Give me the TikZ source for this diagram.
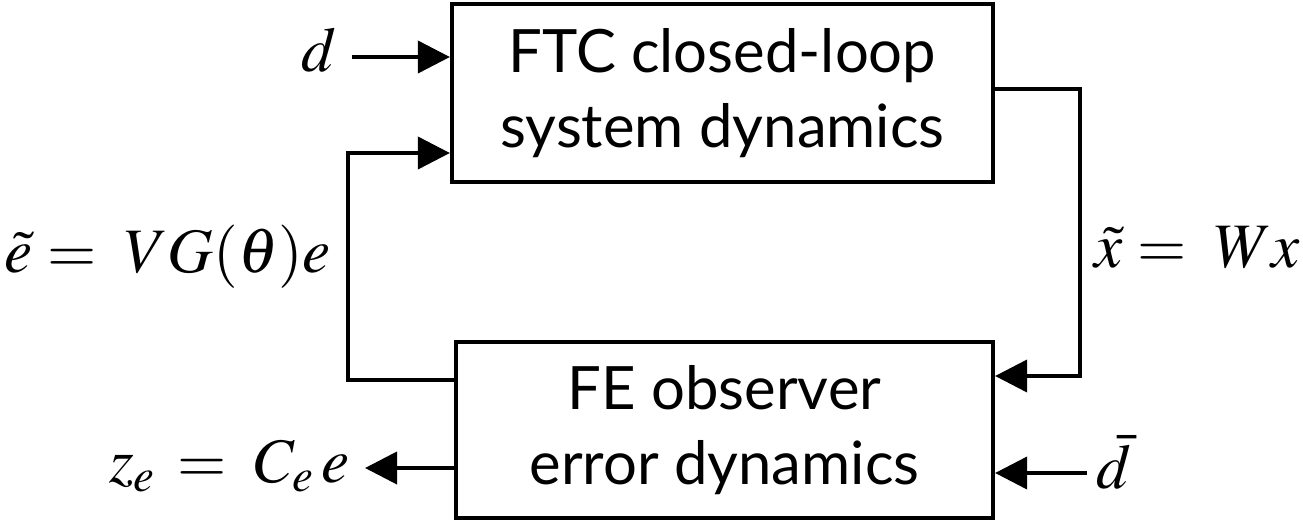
\documentclass[tikz,border=0pt]{standalone}
\usepackage{mathptmx}
\usepackage{fontspec}
\setmainfont{Lato}
\usepackage{tikz}
\usetikzlibrary{arrows.meta,positioning,calc}

\begin{document}
\begin{tikzpicture}[x=0.01cm,y=-0.01cm,line width=1.1pt,
 blockbox/.style={draw,line width=1.1pt,minimum width=5.41cm,minimum height=1.78cm,align=center,font=\fontsize{17}{21.5}\selectfont},
 sig/.style={inner sep=0pt,font=\fontsize{18}{21}\selectfont},
 arr/.style={-{Triangle[length=3.2mm,width=3.2mm]}}]
\useasboundingbox (0,0) rectangle (1303,521);
\node[blockbox] (ftc) at (722.5,93) {FTC closed-loop\\system dynamics};
\node[blockbox,minimum width=5.37cm,minimum height=1.76cm] (fe) at (724.5,430) {FE observer\\error dynamics};
% inputs and outputs
\coordinate (din) at (352,57);
\node[sig,anchor=east] (dlbl) at (338,50) {$d$};
\draw[arr] (din) -- (din -| ftc.west);
\coordinate (dbin) at (1087,473);
\node[sig,anchor=west] (dbar) at (1095,462) {$\bar{d}$};
\draw[arr] (dbin) -- (dbin -| fe.east);
\coordinate (zout) at (365,468);
\node[sig,anchor=east] (zlbl) at (352,466) {$z_e \,=\; C_e\,e$};
\draw[arr] (zout -| fe.west) -- (zout);
% feedback loop
\coordinate (fbl) at (348,380); \coordinate (ful) at (348,153);
\draw[arr] (fbl -| fe.west) -- (fbl) -- (ful) -- (ful -| ftc.west);
\node[sig,anchor=east] (elbl) at (333,257) {$\tilde{e} = \; VG(\theta)e$};
\coordinate (fbr) at (1080,89); \coordinate (fbrd) at (1080,376);
\draw[arr] (fbr -| ftc.east) -- (fbr) -- (fbrd) -- (fbrd -| fe.east);
\node[sig,anchor=west] (xlbl) at (1093,247) {$\tilde{x} = \; Wx$};
\end{tikzpicture}
\end{document}
